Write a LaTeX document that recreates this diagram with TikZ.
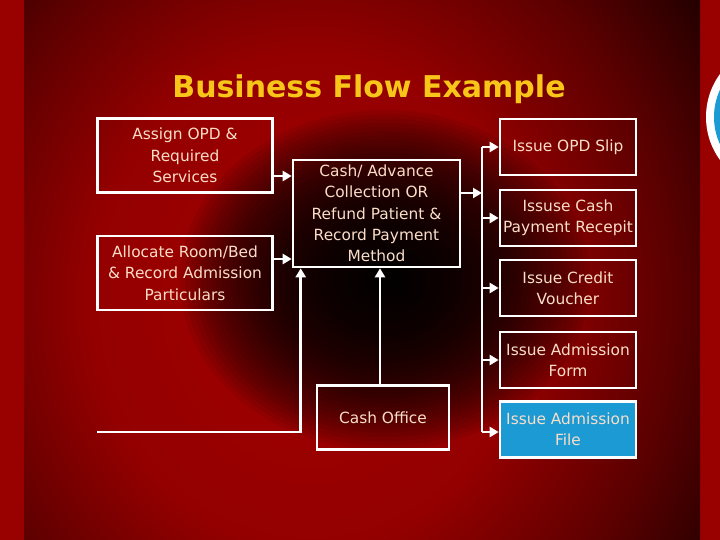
\documentclass[tikz,border=0pt]{standalone}
\usepackage{fontspec}
\setmainfont{DejaVu Sans}
\usetikzlibrary{arrows.meta}
\definecolor{bgred}{RGB}{153,0,0}
\definecolor{txt}{RGB}{250,222,200}
\definecolor{ttl}{RGB}{247,198,24}
\definecolor{fileblue}{RGB}{27,154,212}
\definecolor{rA}{RGB}{162,0,0}
\definecolor{rB}{RGB}{148,0,0}
\definecolor{rC}{RGB}{92,0,0}
\definecolor{rD}{RGB}{22,0,0}
\pgfdeclareradialshading{panelsh}{\pgfpointorigin}{color(0bp)=(rA); color(11bp)=(rB); color(18bp)=(rC); color(25bp)=(rD); color(50bp)=(rD)}
\tikzset{
  box/.style={draw=white, line width=2.6pt, text=txt, align=center, inner sep=0pt,
    font=\fontsize{15.4}{21.3}\selectfont},
  rbox/.style={box, minimum width=136pt, minimum height=56pt},
  wire/.style={draw=white, line width=2.6pt},
  arr/.style={wire, -{Triangle[length=9pt,width=10pt]}}
}
\begin{document}
\begin{tikzpicture}[x=1pt,y=-1pt]
\useasboundingbox (0,0) rectangle (720,540);
% background
\fill[bgred] (0,0) rectangle (720,540);
\begin{scope}
  \clip (24,0) rectangle (700,540);
  \shade[shading=panelsh] (-190,-260) rectangle (810,860);
  \foreach \i in {1,...,40}{
    \fill[black, fill opacity=0.07] (385,280) ellipse [x radius={205*(1-(\i-1)/40)}, y radius={170*(1-(\i-1)/40)}];
  }
\end{scope}
\begin{scope}
  \clip (700,0) rectangle (720,540);
  \fill[white] (779,117) circle [radius=73];
  \fill[fileblue] (779,117) circle [radius=65];
\end{scope}
% title
\node[text=ttl, font=\bfseries\fontsize{30}{36}\selectfont, anchor=base, inner sep=0pt] (title) at (369,98) {Business Flow Example};
% boxes
\node[box, minimum width=175pt, minimum height=74pt] (assign) at (185,155.5) {Assign OPD \&\\Required\\Services};
\node[box, minimum width=175pt, minimum height=74pt] (alloc) at (185,273) {Allocate Room/Bed\\\& Record Admission\\Particulars};
\node[box, minimum width=167pt, minimum height=107pt] (cash) at (376.5,213.5) {Cash/ Advance\\Collection OR\\Refund Patient \&\\Record Payment\\Method};
\node[rbox] (opd) at (568,147) {Issue OPD Slip};
\node[rbox] (receipt) at (568,218) {Issuse Cash\\Payment Recepit};
\node[rbox] (credit) at (568,288) {Issue Credit\\Voucher};
\node[rbox] (form) at (568,360) {Issue Admission\\Form};
\node[rbox, fill=fileblue] (file) at (568,429.5) {Issue Admission\\File};
\node[box, minimum width=132pt, minimum height=64pt] (office) at (383,417.5) {Cash Office};
% connectors
\coordinate (busT) at (482,147);
\coordinate (busB) at (482,432);
\coordinate (bl) at (97,432);
\draw[wire] (busT) -- (busB);
\draw[arr] ([yshift=-20.5pt]assign.east) coordinate (a1) -- (a1 -| cash.west);
\draw[arr] ([yshift=14pt]alloc.east) coordinate (a2) -- (a2 -| cash.west);
\draw[arr] ([yshift=20.5pt]cash.east) coordinate (c1) -- (c1 -| busT);
\draw[arr] (busT) -- (busT -| opd.west);
\draw[arr] (busT |- receipt.west) -- (receipt.west);
\draw[arr] (busT |- credit.west) -- (credit.west);
\draw[arr] (busT |- form.west) -- (form.west);
\draw[arr] (busB) -- (busB -| file.west);
\draw[arr] (bl) -| ([xshift=9pt]cash.south west);
\draw[arr] ([xshift=-3pt]office.north) -- ([xshift=-3pt]office.north |- cash.south);
\end{tikzpicture}
\end{document}
